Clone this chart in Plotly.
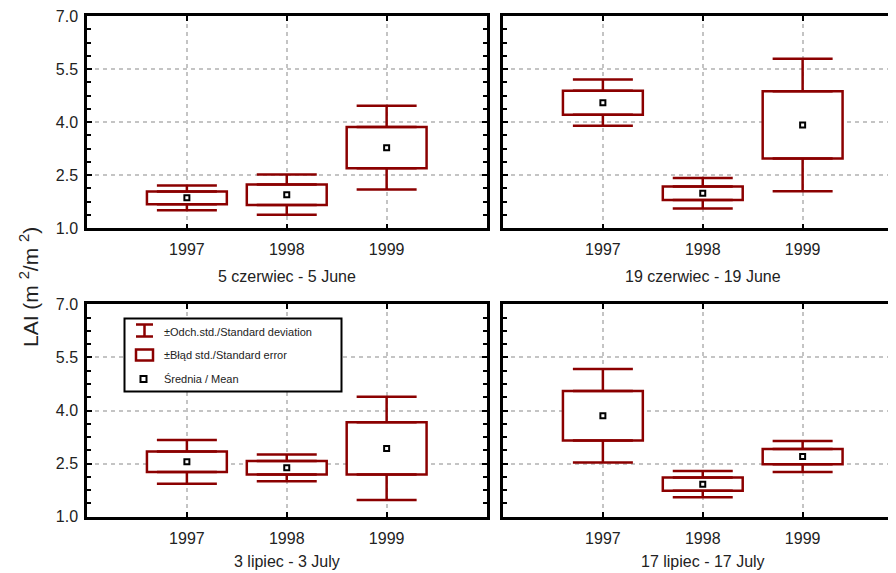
import plotly.graph_objects as go
from plotly.subplots import make_subplots

W, H = 896, 573

years = ["1997", "1998", "1999"]
panel_titles = ["5 czerwiec - 5 June", "19 czerwiec - 19 June",
                "3 lipiec - 3 July", "17 lipiec - 17 July"]

# mean, standard error, standard deviation (LAI, m2/m2)
mean_jun05 = [1.86, 1.95, 3.28]
se_jun05 = [0.18, 0.29, 0.58]
sd_jun05 = [0.35, 0.57, 1.18]

mean_jun19 = [4.55, 1.99, 3.92]
se_jun19 = [0.34, 0.19, 0.95]
sd_jun19 = [0.655, 0.43, 1.875]

mean_jul03 = [2.55, 2.38, 2.93]
se_jul03 = [0.29, 0.19, 0.735]
sd_jul03 = [0.62, 0.38, 1.46]

mean_jul17 = [3.85, 1.92, 2.70]
se_jul17 = [0.70, 0.185, 0.215]
sd_jul17 = [1.32, 0.37, 0.435]

y_ticks = [1.0, 2.5, 4.0, 5.5, 7.0]
legend_labels = ["±Odch.std./Standard deviation", "±Błąd std./Standard error", "Średnia / Mean"]

RED = "#8B0000"
FONT = "Liberation Sans, Arial, sans-serif"
TXT = "#222222"

OFF = 8  # page body margin


def pxx(p):
    return (p - OFF) / W


def pxy(p):
    return 1 - (p - OFF) / H


panels = [
    (1, 1, mean_jun05, se_jun05, sd_jun05),
    (1, 2, mean_jun19, se_jun19, sd_jun19),
    (2, 1, mean_jul03, se_jul03, sd_jul03),
    (2, 2, mean_jul17, se_jul17, sd_jul17),
]

fig = make_subplots(rows=2, cols=2)

for r, c, mean, se, sd in panels:
    fig.add_trace(go.Bar(
        x=years, y=[2 * s for s in se], base=[m - s for m, s in zip(mean, se)],
        width=0.8, marker=dict(color="white", line=dict(color=RED, width=2.5)),
        showlegend=False, hoverinfo="skip"), row=r, col=c)
    fig.add_trace(go.Scatter(
        x=years, y=[m + s for m, s in zip(mean, se)], mode="markers",
        marker=dict(size=1, color="rgba(0,0,0,0)"),
        error_y=dict(type="data", symmetric=False,
                     array=[d - s for d, s in zip(sd, se)], arrayminus=[0, 0, 0],
                     color=RED, thickness=2.5, width=30),
        showlegend=False, hoverinfo="skip"), row=r, col=c)
    fig.add_trace(go.Scatter(
        x=years, y=[m - s for m, s in zip(mean, se)], mode="markers",
        marker=dict(size=1, color="rgba(0,0,0,0)"),
        error_y=dict(type="data", symmetric=False,
                     array=[0, 0, 0], arrayminus=[d - s for d, s in zip(sd, se)],
                     color=RED, thickness=2.5, width=30),
        showlegend=False, hoverinfo="skip"), row=r, col=c)
    fig.add_trace(go.Scatter(
        x=years, y=mean, mode="markers",
        marker=dict(symbol="square", size=5, color="white",
                    line=dict(color="black", width=2)),
        showlegend=False), row=r, col=c)

left_dom = [pxx(87), pxx(486.5)]
right_dom = [pxx(503), pxx(902.5)]
top_dom = [pxy(228.3), pxy(16)]
bot_dom = [pxy(516.7), pxy(304.3)]

grid = dict(showgrid=True, gridcolor="#c4c4c4", gridwidth=1.5, griddash="4px,4px")

xcommon = dict(type="category", range=[-1, 3], showline=True, linecolor="black", linewidth=2.5,
               mirror="allticks", ticks="inside", ticklen=5, tickwidth=2,
               tickcolor="black", zeroline=False, ticklabelstandoff=5, automargin=False,
               tickfont=dict(size=16, color=TXT, family=FONT), **grid)
ycommon = dict(range=[1, 7], tickmode="linear", tick0=1, dtick=1.5, tickformat=".1f",
               showline=True, linecolor="black", linewidth=2.5, mirror="allticks",
               ticks="inside", ticklen=5, tickwidth=2, tickcolor="black",
               zeroline=False, ticklabelstandoff=3, automargin=False,
               ticklabeloverflow="allow",
               minor=dict(dtick=0.375, tick0=1, ticks="inside", ticklen=4,
                          tickwidth=2, tickcolor="black", showgrid=False),
               tickfont=dict(size=16, color=TXT, family=FONT), **grid)

layout_axes = {
    "xaxis": dict(domain=left_dom, **xcommon),
    "xaxis2": dict(domain=right_dom, **xcommon),
    "xaxis3": dict(domain=left_dom, **xcommon),
    "xaxis4": dict(domain=right_dom, **xcommon),
    "yaxis": dict(domain=top_dom, **ycommon),
    "yaxis2": dict(domain=top_dom, showticklabels=False, **ycommon),
    "yaxis3": dict(domain=bot_dom, **ycommon),
    "yaxis4": dict(domain=bot_dom, showticklabels=False, **ycommon),
}
fig.update_layout(**layout_axes)

annotations = []
sub_y = [276, 276, 561.7, 561.7]
for i, (title, yy) in enumerate(zip(panel_titles, sub_y)):
    xr = "x" if i == 0 else "x%d" % (i + 1)
    annotations.append(dict(text=title, xref=xr, x=1, yref="paper", y=pxy(yy),
                            xanchor="center", yanchor="middle", showarrow=False,
                            font=dict(size=16, color=TXT, family=FONT)))
annotations.append(dict(text="LAI (m <sup>2</sup>/m <sup>2</sup>)", textangle=-90,
                        xref="paper", x=pxx(29), yref="paper", y=pxy(287),
                        xanchor="center", yanchor="middle", showarrow=False,
                        font=dict(size=21, color=TXT, family=FONT)))

# legend (drawn in bottom-left panel)
shapes = []
shapes.append(dict(type="rect", xref="paper", yref="paper",
                   x0=pxx(124.5), x1=pxx(341.5), y0=pxy(391.5), y1=pxy(318.5),
                   line=dict(color="black", width=2), fillcolor="white", layer="above"))
ix0, ix1, icx = 136, 153, 144.5
shapes.append(dict(type="path", xref="paper", yref="paper",
                   path="M %f,%f L %f,%f M %f,%f L %f,%f M %f,%f L %f,%f" % (
                       pxx(ix0), pxy(324.5), pxx(ix1), pxy(324.5),
                       pxx(ix0), pxy(336.5), pxx(ix1), pxy(336.5),
                       pxx(icx), pxy(324.5), pxx(icx), pxy(336.5)),
                   line=dict(color=RED, width=2.5), layer="above"))
shapes.append(dict(type="rect", xref="paper", yref="paper",
                   x0=pxx(ix0), x1=pxx(ix1), y0=pxy(360.5), y1=pxy(349.5),
                   line=dict(color=RED, width=2.5), fillcolor="white", layer="above"))
shapes.append(dict(type="rect", xref="paper", yref="paper",
                   x0=pxx(140.5), x1=pxx(146.5), y0=pxy(382), y1=pxy(376),
                   line=dict(color="black", width=2), fillcolor="white", layer="above"))
leg_y = [331.5, 355, 379]
for lab, yy in zip(legend_labels, leg_y):
    annotations.append(dict(text=lab, xref="paper", x=pxx(162), yref="paper", y=pxy(yy),
                            xanchor="left", yanchor="middle", showarrow=False,
                            font=dict(size=11, color=TXT, family=FONT)))

fig.update_layout(
    template="none",
    width=W, height=H, margin=dict(l=0, r=0, t=0, b=0, pad=0),
    plot_bgcolor="white", paper_bgcolor="white",
    barmode="overlay", showlegend=False,
    font=dict(family=FONT, color=TXT),
    annotations=annotations, shapes=shapes,
)

fig.write_html("out.html")
